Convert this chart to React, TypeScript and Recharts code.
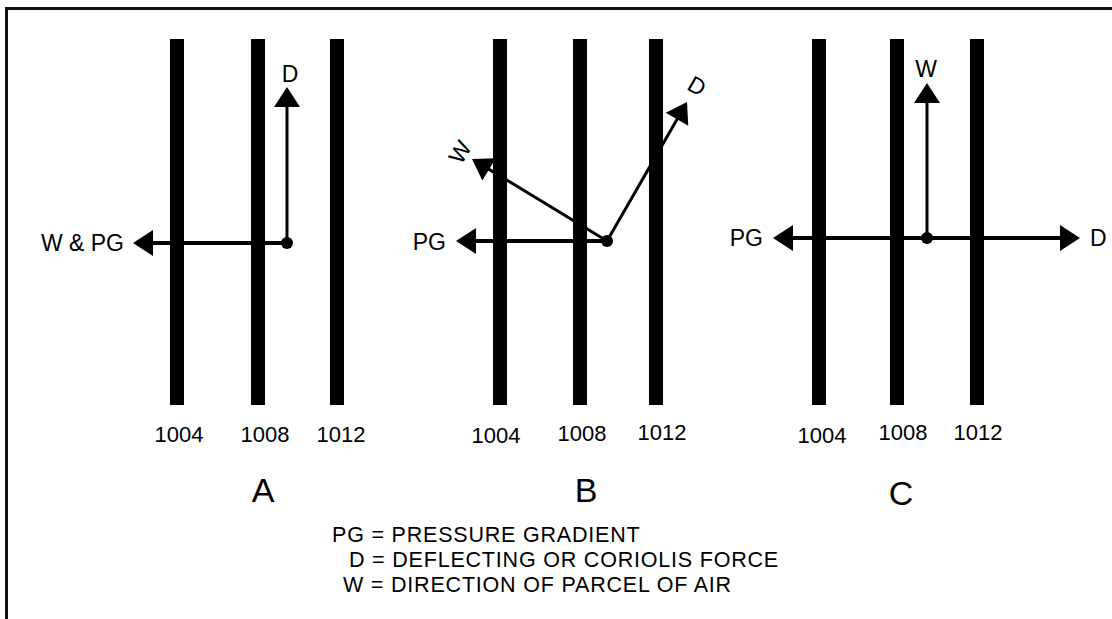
import { ComposedChart, Scatter, XAxis, YAxis, ReferenceLine } from "recharts"

const WIDTH = 1112
const HEIGHT = 619
const FONT = "'Liberation Sans', Arial, Helvetica, sans-serif"

// isobar positions (diagram units), three panels A / B / C
const isobarX = [177, 258, 337, 500, 580, 656, 819, 897, 977]
const isobarTop = 39
const isobarBottom = 405

// parcel of air (origin of the force arrows) per panel
const parcels = [
  { x: 287, y: 243 },
  { x: 607, y: 241 },
  { x: 927, y: 238 },
]

// arrows: from parcel to tip
const arrows = [
  { from: 0, x: 133, y: 243, w: 4 },
  { from: 0, x: 287, y: 87, w: 3 },
  { from: 1, x: 456, y: 241, w: 4 },
  { from: 1, x: 472, y: 159, w: 3 },
  { from: 1, x: 687, y: 102, w: 3 },
  { from: 2, x: 773, y: 238, w: 4 },
  { from: 2, x: 1080, y: 238, w: 4 },
  { from: 2, x: 927, y: 83, w: 3 },
]

const pressureLabels = ["1004", "1008", "1012", "1004", "1008", "1012", "1004", "1008", "1012"]
const pressureLabelX = [179, 265, 341, 496, 582, 662, 822, 903, 978]
const pressureLabelY = [434, 434, 434, 435, 433, 432, 435, 432, 432]

const panelNames = ["A", "B", "C"]
const panelNameX = [263, 586, 901]
const panelNameY = [490, 490, 493]

const arrowLabels = [
  { text: "W & PG", x: 124, y: 243, anchor: "end", rotate: 0 },
  { text: "D", x: 290, y: 74, anchor: "middle", rotate: 0 },
  { text: "PG", x: 446, y: 242, anchor: "end", rotate: 0 },
  { text: "W", x: 460, y: 152, anchor: "middle", rotate: -59 },
  { text: "D", x: 697, y: 86, anchor: "middle", rotate: 30 },
  { text: "PG", x: 763, y: 238, anchor: "end", rotate: 0 },
  { text: "W", x: 926, y: 69, anchor: "middle", rotate: 0 },
  { text: "D", x: 1090, y: 238, anchor: "start", rotate: 0 },
]

const legendLines = ["PG = PRESSURE GRADIENT", "D = DEFLECTING OR CORIOLIS FORCE", "W = DIRECTION OF PARCEL OF AIR"]
const legendX = [332, 349, 343]
const legendY = [535, 560, 585]

type TextPoint = { x: number; y: number; text: string; size: number; anchor: string; rotate: number; spacing?: number }

const textPoints: TextPoint[] = [
  ...pressureLabels.map((t, i) => ({ x: pressureLabelX[i], y: pressureLabelY[i], text: t, size: 22, anchor: "middle", rotate: 0 })),
  ...panelNames.map((t, i) => ({ x: panelNameX[i], y: panelNameY[i], text: t, size: 34, anchor: "middle", rotate: 0 })),
  ...arrowLabels.map((l) => ({ ...l, size: 23 })),
  ...legendLines.map((t, i) => ({ x: legendX[i], y: legendY[i], text: t, size: 21.5, anchor: "start", rotate: 0, spacing: 0.8 })),
]

function ArrowShape(props: any) {
  const { x1, y1, x2, y2, strokeWidth } = props
  const dx = x2 - x1
  const dy = y2 - y1
  const len = Math.hypot(dx, dy) || 1
  const ux = dx / len
  const uy = dy / len
  const headLen = 20
  const headHalf = 13
  const bx = x2 - ux * headLen
  const by = y2 - uy * headLen
  const px = -uy
  const py = ux
  return (
    <g>
      <line x1={x1} y1={y1} x2={bx + ux} y2={by + uy} stroke="#000" strokeWidth={strokeWidth} />
      <polygon
        points={`${x2},${y2} ${bx + px * headHalf},${by + py * headHalf} ${bx - px * headHalf},${by - py * headHalf}`}
        fill="#000"
      />
    </g>
  )
}

function TextShape(props: any) {
  const { cx, cy, payload } = props
  const p = payload as TextPoint
  return (
    <text
      x={cx}
      y={cy}
      textAnchor={p.anchor}
      dominantBaseline="central"
      fontFamily={FONT}
      fontSize={p.size}
      letterSpacing={p.spacing ?? 0}
      fill="#000"
      transform={p.rotate ? `rotate(${p.rotate} ${cx} ${cy})` : undefined}
    >
      {p.text}
    </text>
  )
}

export default function App() {
  return (
    <div style={{ position: "absolute", left: 0, top: 0, width: WIDTH, height: HEIGHT, background: "#fff", overflow: "hidden" }}>
      <div
        style={{
          position: "absolute",
          left: 5,
          top: 7,
          width: WIDTH,
          height: HEIGHT,
          borderLeft: "3px solid #111",
          borderTop: "3px solid #111",
        }}
      />
      <div style={{ position: "absolute", left: 0, top: 0 }}>
        <ComposedChart width={WIDTH} height={HEIGHT} margin={{ top: 0, right: 0, bottom: 0, left: 0 }}>
          <XAxis type="number" dataKey="x" domain={[0, WIDTH]} hide />
          <YAxis type="number" dataKey="y" domain={[0, HEIGHT]} reversed hide />
          {isobarX.map((x, i) => (
            <Scatter
              key={`iso-${i}`}
              data={[
                { x, y: isobarTop },
                { x, y: isobarBottom },
              ]}
              fill="#000"
              line={{ stroke: "#000", strokeWidth: 14 }}
              lineType="joint"
              shape={() => <g />}
              isAnimationActive={false}
            />
          ))}
          {arrows.map((a, i) => (
            <ReferenceLine
              key={`arrow-${i}`}
              segment={[
                { x: parcels[a.from].x, y: parcels[a.from].y },
                { x: a.x, y: a.y },
              ]}
              stroke="#000"
              strokeWidth={a.w}
              shape={ArrowShape}
              ifOverflow="visible"
            />
          ))}
          <Scatter data={parcels} fill="#000" shape={(p: any) => <circle cx={p.cx} cy={p.cy} r={6} fill="#000" />} isAnimationActive={false} />
          <Scatter data={textPoints} fill="#000" shape={TextShape} isAnimationActive={false} />
        </ComposedChart>
      </div>
    </div>
  )
}
